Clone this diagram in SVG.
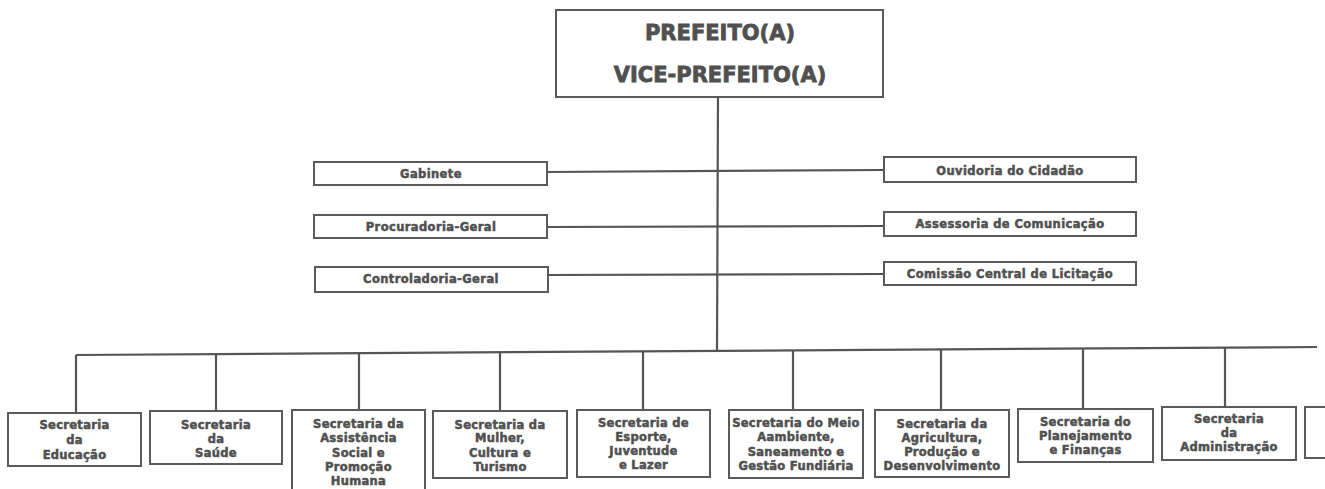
<svg xmlns="http://www.w3.org/2000/svg" width="1325" height="489" viewBox="0 0 1325 489">
<style>
.bx{fill:#fff;stroke:#5a5a5a;stroke-width:2}
.ln{stroke:#555;stroke-width:2.2;fill:none}
text{font-family:"DejaVu Sans","Liberation Sans",sans-serif;font-weight:bold;fill:#505050;stroke:#505050;text-anchor:middle}
.t1{font-size:21px;stroke-width:0.8}
.t2{font-size:11.5px;letter-spacing:0.4px;stroke-width:0.5}
.t3{font-size:11.5px;letter-spacing:0.3px;stroke-width:0.5}
</style>
<rect width="1325" height="489" fill="#fff"/>
<g id="connectors">
<line class="ln" x1="718" y1="97" x2="717" y2="352"/>
<line class="ln" x1="547" y1="172" x2="884" y2="170"/>
<line class="ln" x1="547" y1="227" x2="884" y2="226"/>
<line class="ln" x1="548" y1="275" x2="884" y2="274"/>
<line class="ln" x1="76" y1="355" x2="1317" y2="347"/>
<line class="ln" x1="76" y1="355" x2="76" y2="413"/>
<line class="ln" x1="216" y1="354" x2="216" y2="411"/>
<line class="ln" x1="359" y1="353" x2="359" y2="410"/>
<line class="ln" x1="500" y1="352" x2="500" y2="411"/>
<line class="ln" x1="643" y1="351" x2="643" y2="410"/>
<line class="ln" x1="793" y1="350" x2="793" y2="410"/>
<line class="ln" x1="941" y1="349" x2="941" y2="410"/>
<line class="ln" x1="1083" y1="348" x2="1083" y2="409"/>
<line class="ln" x1="1225" y1="348" x2="1225" y2="407"/>
</g>
<g id="prefeito">
<rect class="bx" x="556" y="10" width="327" height="87"/>
<text class="t1" x="720" y="40">PREFEITO(A)</text>
<text class="t1" x="720" y="82">VICE-PREFEITO(A)</text>
</g>
<g id="gabinete">
<rect class="bx" x="314" y="162" width="233" height="23"/>
<text class="t2" x="431" y="178">Gabinete</text>
</g>
<g id="procuradoria">
<rect class="bx" x="314" y="215" width="233" height="23"/>
<text class="t2" x="431" y="231">Procuradoria-Geral</text>
</g>
<g id="controladoria">
<rect class="bx" x="315" y="267" width="233" height="25"/>
<text class="t2" x="431" y="283">Controladoria-Geral</text>
</g>
<g id="ouvidoria">
<rect class="bx" x="884" y="157" width="252" height="25"/>
<text class="t2" x="1010" y="175">Ouvidoria do Cidadão</text>
</g>
<g id="assessoria">
<rect class="bx" x="884" y="212" width="252" height="24"/>
<text class="t2" x="1010" y="228">Assessoria de Comunicação</text>
</g>
<g id="comissao">
<rect class="bx" x="884" y="262" width="252" height="23"/>
<text class="t2" x="1010" y="278">Comissão Central de Licitação</text>
</g>
<g id="educacao">
<rect class="bx" x="8" y="413" width="133" height="53"/>
<text class="t3" x="74.500" y="429">Secretaria</text>
<text class="t3" x="74.500" y="444">da</text>
<text class="t3" x="74.500" y="459">Educação</text>
</g>
<g id="saude">
<rect class="bx" x="150" y="411" width="132" height="53"/>
<text class="t3" x="216" y="429">Secretaria</text>
<text class="t3" x="216" y="443">da</text>
<text class="t3" x="216" y="457">Saúde</text>
</g>
<g id="assistencia">
<rect class="bx" x="292" y="410" width="133" height="90"/>
<text class="t3" x="358.500" y="428">Secretaria da</text>
<text class="t3" x="358.500" y="442">Assistência</text>
<text class="t3" x="358.500" y="457">Social e</text>
<text class="t3" x="358.500" y="471">Promoção</text>
<text class="t3" x="358.500" y="485">Humana</text>
</g>
<g id="mulher">
<rect class="bx" x="433" y="411" width="134" height="67"/>
<text class="t3" x="500" y="429">Secretaria da</text>
<text class="t3" x="500" y="442">Mulher,</text>
<text class="t3" x="500" y="457">Cultura e</text>
<text class="t3" x="500" y="471">Turismo</text>
</g>
<g id="esporte">
<rect class="bx" x="577" y="410" width="133" height="67"/>
<text class="t3" x="643.500" y="427">Secretaria de</text>
<text class="t3" x="643.500" y="441">Esporte,</text>
<text class="t3" x="643.500" y="455">Juventude</text>
<text class="t3" x="643.500" y="469">e Lazer</text>
</g>
<g id="meioambiente">
<rect class="bx" x="729" y="410" width="134" height="68"/>
<text class="t3" x="796" y="427">Secretaria do Meio</text>
<text class="t3" x="796" y="441">Aambiente,</text>
<text class="t3" x="796" y="456">Saneamento e</text>
<text class="t3" x="796" y="470">Gestão Fundiária</text>
</g>
<g id="agricultura">
<rect class="bx" x="875" y="410" width="134" height="67"/>
<text class="t3" x="942" y="428">Secretaria da</text>
<text class="t3" x="942" y="442">Agricultura,</text>
<text class="t3" x="942" y="456">Produção e</text>
<text class="t3" x="942" y="470">Desenvolvimento</text>
</g>
<g id="planejamento">
<rect class="bx" x="1018" y="409" width="135" height="53"/>
<text class="t3" x="1085.500" y="426">Secretaria do</text>
<text class="t3" x="1085.500" y="440">Planejamento</text>
<text class="t3" x="1085.500" y="454">e Finanças</text>
</g>
<g id="administracao">
<rect class="bx" x="1162" y="407" width="134" height="53"/>
<text class="t3" x="1229" y="423">Secretaria</text>
<text class="t3" x="1229" y="437">da</text>
<text class="t3" x="1229" y="451">Administração</text>
</g>
<g id="partial">
<rect class="bx" x="1305" y="407" width="40" height="51"/>
</g>
</svg>
